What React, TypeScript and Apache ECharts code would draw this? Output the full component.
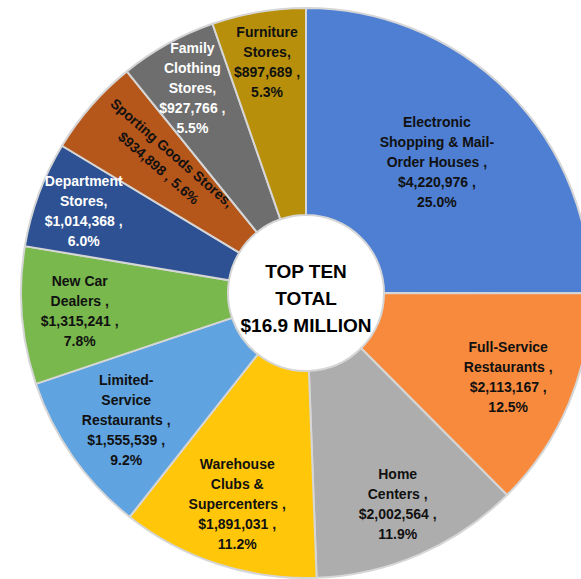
import React, { useEffect, useRef } from "react";
import * as echarts from "echarts";

const categories = [
  "Electronic Shopping & Mail-Order Houses",
  "Full-Service Restaurants",
  "Home Centers",
  "Warehouse Clubs & Supercenters",
  "Limited-Service Restaurants",
  "New Car Dealers",
  "Department Stores",
  "Sporting Goods Stores",
  "Family Clothing Stores",
  "Furniture Stores",
];
const values = [4220976, 2113167, 2002564, 1891031, 1555539, 1315241, 1014368, 934898, 927766, 897689];
const pctLabels = ["25.0", "12.5", "11.9", "11.2", "9.2", "7.8", "6.0", "5.6", "5.5", "5.3"];
const labelNames = [
  "Electronic\nShopping & Mail-\nOrder Houses ,",
  "Full-Service\nRestaurants ,",
  "Home\nCenters ,",
  "Warehouse\nClubs &\nSupercenters ,",
  "Limited-\nService\nRestaurants ,",
  "New Car\nDealers ,",
  "Department\nStores,",
  "Sporting Goods Stores,",
  "Family\nClothing\nStores,",
  "Furniture\nStores,",
];
const colors = ["#4e7fd3", "#f78a3d", "#adadad", "#ffc60a", "#5fa3e0", "#78b84d", "#2d5192", "#b5561b", "#6e6e6e", "#b78f0b"];
const textColors = ["#111", "#111", "#111", "#111", "#111", "#111", "#fff", "#111", "#fff", "#111"];
const labelRadii = [185, 219, 230, 222, 220, 227, 237, 196, 234, 234];

const CX = 306;
const CY = 293;
const FONT = "'Liberation Sans', Arial, sans-serif";

export default function App() {
  const ref = useRef<HTMLDivElement>(null);
  useEffect(() => {
    if (!ref.current) return;
    const chart = echarts.init(ref.current, undefined, { renderer: "svg" });
    chart.setOption({
      animation: false,
      backgroundColor: "#ffffff",
      series: [
        {
          type: "pie",
          center: [CX, CY],
          radius: [78, 285],
          startAngle: 90,
          clockwise: true,
          itemStyle: { borderColor: "#d6d6d6", borderWidth: 2 },
          label: {
            show: true,
            position: "inside",
            fontFamily: FONT,
            fontWeight: "bold",
            fontSize: 14,
            lineHeight: 20,
            formatter: (p: any) => {
              const i = p.dataIndex;
              const sep = i === 7 ? " " : "\n";
              return `${labelNames[i]}\n$${values[i].toLocaleString("en-US")} ,${sep}${pctLabels[i]}%`;
            },
          },
          labelLine: { show: false },
          labelLayout: (p: any) => {
            const r = p.labelRect;
            const cx = r.x + r.width / 2;
            const cy = r.y + r.height / 2;
            const dx0 = cx - CX;
            const dy0 = cy - CY;
            const d = Math.hypot(dx0, dy0) || 1;
            const R = labelRadii[p.dataIndex];
            return { dx: (dx0 / d) * (R - d), dy: (dy0 / d) * (R - d) };
          },
          data: categories.map((n, i) => ({
            name: n,
            value: values[i],
            itemStyle: { color: colors[i] },
            label: { color: textColors[i], rotate: i === 7 ? "radial" : 0 },
          })),
        },
      ],
      graphic: [
        {
          type: "text",
          x: CX,
          y: 298,
          style: {
            text: "TOP TEN\nTOTAL\n$16.9 MILLION",
            fill: "#000",
            fontFamily: FONT,
            fontWeight: "bold",
            fontSize: 19,
            lineHeight: 27,
            align: "center",
            verticalAlign: "middle",
          },
        },
      ],
    });
    return () => chart.dispose();
  }, []);
  return <div ref={ref} style={{ position: "fixed", left: 0, top: 0, width: 581, height: 579 }} />;
}
